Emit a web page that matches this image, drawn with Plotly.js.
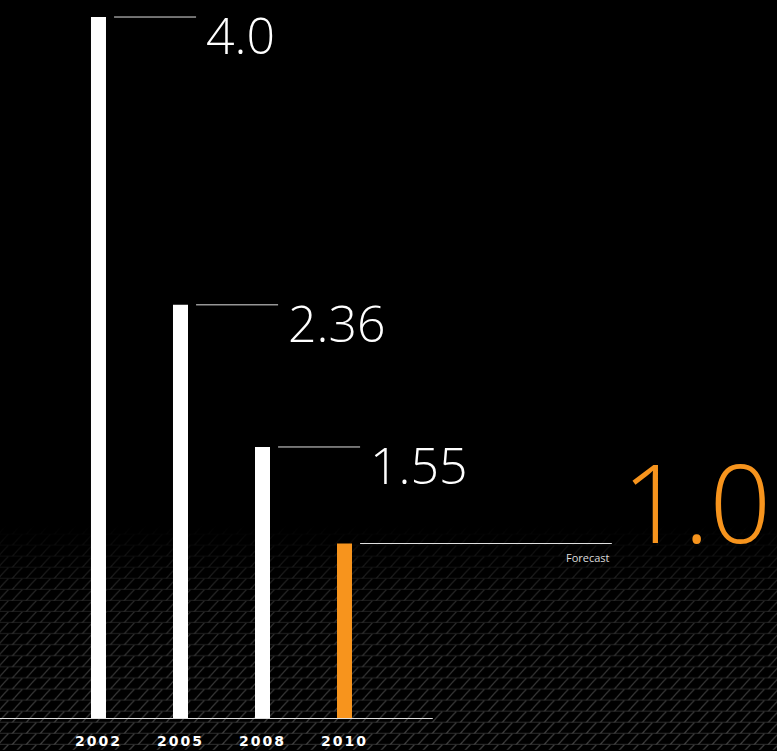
<!DOCTYPE html>
<html>
<head>
<meta charset="utf-8">
<script src="https://cdn.plot.ly/plotly-3.0.1.min.js"></script>
<style>
  html, body { margin: 0; padding: 0; background: #000; }
  #chart { width: 777px; height: 751px; }
  #chart .xtick text { letter-spacing: 2px; }
</style>
</head>
<body>
<div id="chart"></div>
<script>
// ---- data ----
const years = ['2002', '2005', '2008', '2010'];
const values = [4.0, 2.36, 1.55, 1.0];
const valueLabels = ['4.0', '2.36', '1.55', '1.0'];
const forecastLabel = 'Forecast';
const forecastIndex = 3;

// ---- styles ----
const WHITE = '#ffffff';
const ORANGE = '#f7941d';
const barColors = years.map((_, i) => i === forecastIndex ? ORANGE : WHITE);
const xIdx = years.map((_, i) => i);

// background texture (decorative) as inline SVG
const texSvg = `<svg xmlns="http://www.w3.org/2000/svg" width="777" height="225">
<defs>
<pattern id="p" width="14" height="11" patternUnits="userSpaceOnUse">
<rect width="14" height="11" fill="black"/>
<line x1="0" y1="10.5" x2="14" y2="10.5" stroke="#333333" stroke-width="1.2"/>
<line x1="-3" y1="12" x2="9" y2="-1" stroke="#4a4a4a" stroke-width="1.3"/>
<line x1="11" y1="12" x2="23" y2="-1" stroke="#4a4a4a" stroke-width="1.3"/>
</pattern>
<linearGradient id="g" x1="0" y1="0" x2="0" y2="1">
<stop offset="0" stop-color="white" stop-opacity="0"/>
<stop offset="0.3" stop-color="white" stop-opacity="0.6"/>
<stop offset="1" stop-color="white" stop-opacity="1"/>
</linearGradient>
<mask id="m"><rect width="777" height="225" fill="url(#g)"/></mask>
</defs>
<rect width="777" height="225" fill="black"/>
<rect width="777" height="225" fill="url(#p)" mask="url(#m)" opacity="0.85"/>
</svg>`;
const texUri = 'data:image/svg+xml;base64,' + btoa(texSvg);

const thinFont = '"Open Sans", Lato, "DejaVu Sans", sans-serif';

const annotations = [];
const shapes = [];
values.forEach((v, i) => {
  const isF = i === forecastIndex;
  shapes.push({
    type: 'line', xref: 'x', yref: 'y',
    x0: i + 0.19, x1: isF ? i + 3.26 : i + 1.19,
    y0: v, y1: v,
    line: { color: '#e0e0e0', width: 1 }
  });
  if (!isF) {
    annotations.push({
      x: i + 1.29, y: v, xref: 'x', yref: 'y',
      xanchor: 'left', yanchor: 'middle', yshift: -18,
      text: valueLabels[i], showarrow: false,
      font: { family: thinFont, size: 50, color: WHITE, weight: 300 }
    });
  } else {
    annotations.push({
      x: i + 5.22, y: v, xref: 'x', yref: 'y',
      xanchor: 'right', yanchor: 'middle', yshift: 42,
      text: valueLabels[i], showarrow: false,
      font: { family: thinFont, size: 108, color: ORANGE, weight: 300 }
    });
    annotations.push({
      x: i + 3.26, y: v, xref: 'x', yref: 'y',
      xanchor: 'right', yanchor: 'middle', yshift: -14,
      text: forecastLabel, showarrow: false,
      font: { family: thinFont, size: 11, color: '#dddddd' }
    });
  }
});
// baseline
shapes.push({
  type: 'line', xref: 'paper', yref: 'y',
  x0: 0, x1: 0.557, y0: 0, y1: 0,
  line: { color: '#e0e0e0', width: 2 }
});

const trace = {
  type: 'bar',
  x: xIdx,
  y: values,
  width: 0.183,
  marker: { color: barColors, line: { width: 0 } },
  hoverinfo: 'skip'
};

const layout = {
  width: 777, height: 751,
  margin: { l: 0, r: 0, t: 0, b: 32 },
  paper_bgcolor: '#000000',
  plot_bgcolor: 'rgba(0,0,0,0)',
  showlegend: false,
  xaxis: {
    range: [-1.201, 8.274],
    tickmode: 'array', tickvals: xIdx, ticktext: years,
    tickfont: { family: '"DejaVu Sans", Verdana, sans-serif', size: 14, color: WHITE, weight: 'bold' },
    ticklabelstandoff: 12,
    showgrid: false, zeroline: false, showline: false, ticks: '',
    fixedrange: true
  },
  yaxis: {
    range: [0, 4.097],
    visible: false, showgrid: false, zeroline: false, fixedrange: true
  },
  shapes: shapes,
  annotations: annotations,
  images: [{
    source: texUri, xref: 'paper', yref: 'paper',
    x: 0, y: 0.272, sizex: 1, sizey: 0.315,
    xanchor: 'left', yanchor: 'top', sizing: 'stretch', layer: 'below'
  }]
};

Plotly.newPlot('chart', [trace], layout, { displayModeBar: false, staticPlot: true });
</script>
</body>
</html>
